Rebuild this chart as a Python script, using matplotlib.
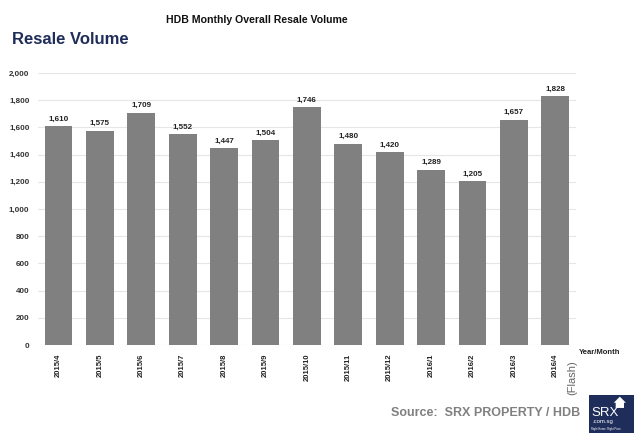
import matplotlib
matplotlib.use("Agg")
import matplotlib.pyplot as plt
from matplotlib.patches import Rectangle, Polygon

plt.rcParams['font.family'] = ['Liberation Sans', 'DejaVu Sans']

months = ["2015/4", "2015/5", "2015/6", "2015/7", "2015/8", "2015/9", "2015/10",
          "2015/11", "2015/12", "2016/1", "2016/2", "2016/3", "2016/4"]
volumes = [1610, 1575, 1709, 1552, 1447, 1504, 1746, 1480, 1420, 1289, 1205, 1657, 1828]
yticks = [0, 200, 400, 600, 800, 1000, 1200, 1400, 1600, 1800, 2000]

fig = plt.figure(figsize=(6.4, 4.34), dpi=100)
ax = fig.add_axes([0.059, 0.205, 0.841, 0.627])

x = list(range(len(months)))
ax.bar(x, volumes, width=0.67, color="#808080", zorder=3)
for xi, v in zip(x, volumes):
    ax.text(xi, v + 25, f"{v:,}", ha="center", va="bottom", fontsize=5.8,
            fontweight="bold", color="#222222")

ax.set_xlim(-0.5, len(months) - 0.5)
ax.set_ylim(0, 2000)
ax.set_yticks(yticks)
ax.set_yticklabels([f"{t:,}" for t in yticks], fontsize=5.8, fontweight="bold",
                   color="#333333")
ax.set_xticks(x)
ax.set_xticklabels(months, rotation=90, fontsize=5.5, fontweight="bold",
                   color="#222222")
ax.tick_params(axis="both", length=0, pad=6)
ax.grid(axis="y", color="#e6e6e6", linewidth=0.8, zorder=0)
for s in ax.spines.values():
    s.set_visible(False)

fig.text(0.402, 0.955, "HDB Monthly Overall Resale Volume", ha="center", va="center",
         fontsize=7.6, fontweight="bold", color="#111111")
fig.text(0.019, 0.908, "Resale Volume", ha="left", va="center", fontsize=12,
         fontweight="bold", color="#1f2d5a")
fig.text(0.905, 0.187, "Year/Month", ha="left", va="center", fontsize=5.5,
         fontweight="bold", color="#222222")
fig.text(0.894, 0.131, "(Flash)", ha="center", va="center", rotation=90, fontsize=8,
         color="#666666")
fig.text(0.906, 0.048, "Source:  SRX PROPERTY / HDB", ha="right", va="center",
         fontsize=9, fontweight="bold", color="#808080")

# SRX logo
fig.patches.append(Rectangle((0.921, 0.003), 0.069, 0.087, transform=fig.transFigure,
                             facecolor="#1f2d5a", edgecolor="none"))
fig.patches.append(Polygon([(0.959, 0.072), (0.9685, 0.086), (0.978, 0.072),
                            (0.975, 0.072), (0.975, 0.060), (0.962, 0.060),
                            (0.962, 0.072)], closed=True, transform=fig.transFigure,
                           facecolor="white", edgecolor="none"))
fig.text(0.924, 0.048, "SRX", ha="left", va="center", fontsize=9.5,
         color="white")
fig.text(0.926, 0.029, ".com.sg", ha="left", va="center", fontsize=4.3,
         color="white")
fig.text(0.924, 0.012, "Right Home. Right Price.", ha="left", va="center", fontsize=2,
         color="white")

fig.savefig("out.png", dpi=100)
